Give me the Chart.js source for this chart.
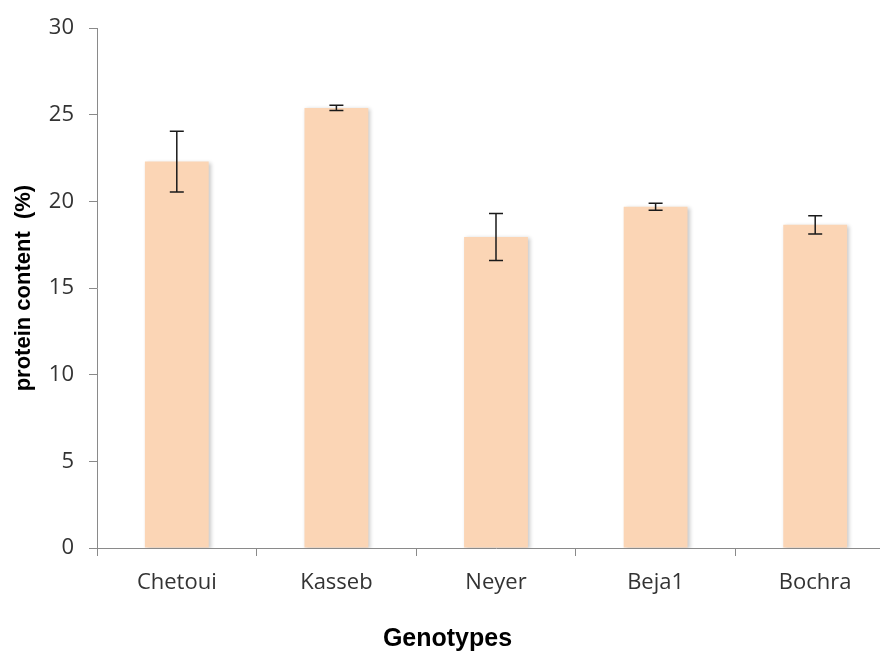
<!DOCTYPE html>
<html>
<head>
<meta charset="utf-8">
<script src="https://cdn.jsdelivr.net/npm/chart.js@4.4.0/dist/chart.umd.min.js"></script>
<style>
  html, body { margin: 0; padding: 0; background: #fff; overflow: hidden; }
  #wrap { width: 910px; height: 655px; }
</style>
</head>
<body>
<div id="wrap"><canvas id="chart1"></canvas></div>
<script>
// data
const genotypes = ["Chetoui", "Kasseb", "Neyer", "Beja1", "Bochra"];
const protein = [22.3, 25.4, 17.95, 19.7, 18.65];
const errors = [1.75, 0.15, 1.35, 0.2, 0.53];
const yTicks = [0, 5, 10, 15, 20, 25, 30];

const axisGray = "#8a8a8a";

// soft shadow on the bars, like the office chart
const barShadow = {
    id: "barShadow",
    beforeDatasetsDraw(chart) {
        let ctx = chart.ctx;
        ctx.save();
        ctx.shadowColor = "rgba(0,0,0,0.22)";
        ctx.shadowBlur = 4;
        ctx.shadowOffsetX = 2;
        ctx.shadowOffsetY = 1;
    },
    afterDatasetsDraw(chart) {
        chart.ctx.restore();
    }
};

// error bars drawn through the y scale
const errorBars = {
    id: "errorBars",
    afterDatasetsDraw(chart) {
        let ctx = chart.ctx;
        let y = chart.scales.y;
        let meta = chart.getDatasetMeta(0);
        ctx.save();
        ctx.strokeStyle = "#1a1a1a";
        ctx.lineWidth = 1.5;
        meta.data.forEach((bar, i) => {
            let top = y.getPixelForValue(protein[i] + errors[i]);
            let bot = y.getPixelForValue(protein[i] - errors[i]);
            let x = bar.x;
            ctx.beginPath();
            ctx.moveTo(x, top); ctx.lineTo(x, bot);
            ctx.moveTo(x - 7, top); ctx.lineTo(x + 7, top);
            ctx.moveTo(x - 7, bot); ctx.lineTo(x + 7, bot);
            ctx.stroke();
        });
        ctx.restore();
    }
};

let ctx = document.getElementById("chart1").getContext("2d");
let myChart = new Chart(ctx, {
    type: "bar",
    data: {
        labels: genotypes,
        datasets: [{
            data: protein,
            backgroundColor: "#fbd5b5",
            borderWidth: 0,
            barPercentage: 0.8,
            categoryPercentage: 0.5
        }]
    },
    plugins: [barShadow, errorBars],
    options: {
        responsive: true,
        maintainAspectRatio: false,
        devicePixelRatio: 1,
        animation: false,
        layout: { padding: { top: 25, right: 15, left: 0, bottom: 0 } },
        plugins: {
            legend: { display: false },
            tooltip: { enabled: false },
            // chart-level title, centred on the whole picture like the original
            title: {
                display: true,
                position: "bottom",
                text: "Genotypes",
                color: "#000",
                padding: { top: 0, bottom: 1 },
                font: { family: "Liberation Sans", size: 25, weight: "bold" }
            }
        },
        scales: {
            x: {
                grid: { offset: true, drawOnChartArea: false, tickLength: 8, color: axisGray },
                border: { color: axisGray },
                ticks: {
                    maxRotation: 0,
                    padding: 14,
                    color: "#333",
                    font: { family: "Open Sans", size: 22 }
                },
                afterFit(scale) { scale.height = 76; }
            },
            y: {
                min: 0,
                max: 30,
                afterBuildTicks(scale) { scale.ticks = yTicks.map(v => ({ value: v })); },
                grid: { drawOnChartArea: false, tickLength: 8, color: axisGray },
                border: { color: axisGray },
                ticks: {
                    padding: 15,
                    color: "#333",
                    font: { family: "Open Sans", size: 22 }
                },
                title: {
                    display: true,
                    text: "protein content  (%)",
                    color: "#000",
                    padding: { top: 11, bottom: 0 },
                    font: { family: "Liberation Sans", size: 22, weight: "bold" }
                },
                afterFit(scale) { scale.width = 97; }
            }
        }
    }
});
</script>
</body>
</html>
